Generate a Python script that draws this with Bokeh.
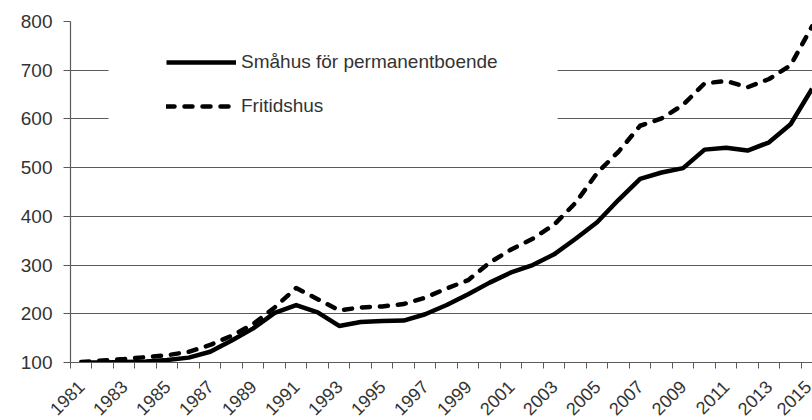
import math
from bokeh.plotting import figure
from bokeh.models import (ColumnDataSource, FixedTicker, Legend, LegendItem,
                          BoxAnnotation, Range1d)
from bokeh.embed import file_html
from bokeh.resources import INLINE

# ---- data -------------------------------------------------------------
years = list(range(1981, 2016))
smahus = [100, 100, 101, 102, 105, 110, 122, 145, 170, 202,
          218, 203, 175, 183, 185, 186, 199, 218, 240, 264,
          285, 300, 322, 354, 388, 434, 477, 490, 499, 537,
          541, 535, 552, 589, 662]
fritidshus = [101, 104, 107, 111, 115, 122, 136, 155, 179, 213,
              253, 230, 207, 213, 215, 220, 233, 252, 269, 305,
              332, 354, 383, 428, 489, 533, 586, 601, 629, 673,
              678, 665, 682, 710, 790]
label_years = list(range(1981, 2016, 2))
y_ticks = [100, 200, 300, 400, 500, 600, 700, 800]
series_names = ["Småhus för permanentboende", "Fritidshus"]

src = ColumnDataSource(dict(year=years, smahus=smahus, fritid=fritidshus))

FONT = "Liberation Sans"
TXT = "#333333"
GRID = "#5a5a5a"

p = figure(frame_width=742, frame_height=341, output_backend="svg",
           toolbar_location=None, x_range=Range1d(1980.5, 2015.02),
           y_range=Range1d(100, 800), min_border_left=70, min_border_top=21,
           min_border_right=0, min_border_bottom=0)
p.outline_line_color = None
p.background_fill_color = "white"

# lines
l1 = p.line("year", "smahus", source=src, line_color="black", line_width=4.5,
            line_join="round")
l2 = p.line("year", "fritid", source=src, line_color="black", line_width=4.5,
            line_dash="8 10", line_join="round", line_cap="round")

# grid
p.xgrid.visible = False
p.ygrid.ticker = FixedTicker(ticks=y_ticks)
p.ygrid.grid_line_color = GRID
p.ygrid.grid_line_width = 1.2

# y axis
p.yaxis.ticker = FixedTicker(ticks=y_ticks)
p.yaxis.major_tick_out = 7
p.yaxis.major_tick_in = 0
p.yaxis.minor_tick_line_color = None
p.yaxis.major_tick_line_color = GRID
p.yaxis.axis_line_color = GRID
p.yaxis.axis_line_width = 1.2
p.yaxis.major_label_text_font = FONT
p.yaxis.major_label_text_font_size = "19px"
p.yaxis.major_label_text_color = TXT
p.yaxis.major_label_standoff = 11

# x axis: labels on odd years (category centres), ticks at boundaries
bounds = [y - 0.5 for y in years] + [years[-1] + 0.5]
p.xaxis.ticker = FixedTicker(ticks=label_years, minor_ticks=bounds)
p.xaxis.major_tick_line_color = None
p.xaxis.major_tick_out = 0
p.xaxis.major_tick_in = 0
p.xaxis.minor_tick_out = 6
p.xaxis.minor_tick_in = 0
p.xaxis.minor_tick_line_color = GRID
p.xaxis.axis_line_color = GRID
p.xaxis.axis_line_width = 1.2
p.xaxis.major_label_orientation = math.pi / 4
p.xaxis.major_label_text_font = FONT
p.xaxis.major_label_text_font_size = "18px"
p.xaxis.major_label_text_color = TXT
p.xaxis.major_label_standoff = 15

# white legend backdrop that hides the grid lines
p.add_layout(BoxAnnotation(left=1982.27, right=2003.16, bottom=555, top=780,
                           fill_color="white", fill_alpha=1.0,
                           line_color=None))

legend = Legend(items=[LegendItem(label=series_names[0], renderers=[l1]),
                       LegendItem(label=series_names[1], renderers=[l2])],
                location=(96, 244), padding=0, margin=0, spacing=20,
                glyph_width=70, glyph_height=24, label_height=24,
                label_standoff=5, border_line_color=None,
                background_fill_alpha=0.0,
                label_text_font=FONT, label_text_font_size="19px",
                label_text_color=TXT)
p.add_layout(legend)

open("out.html", "w").write(file_html(p, INLINE))
